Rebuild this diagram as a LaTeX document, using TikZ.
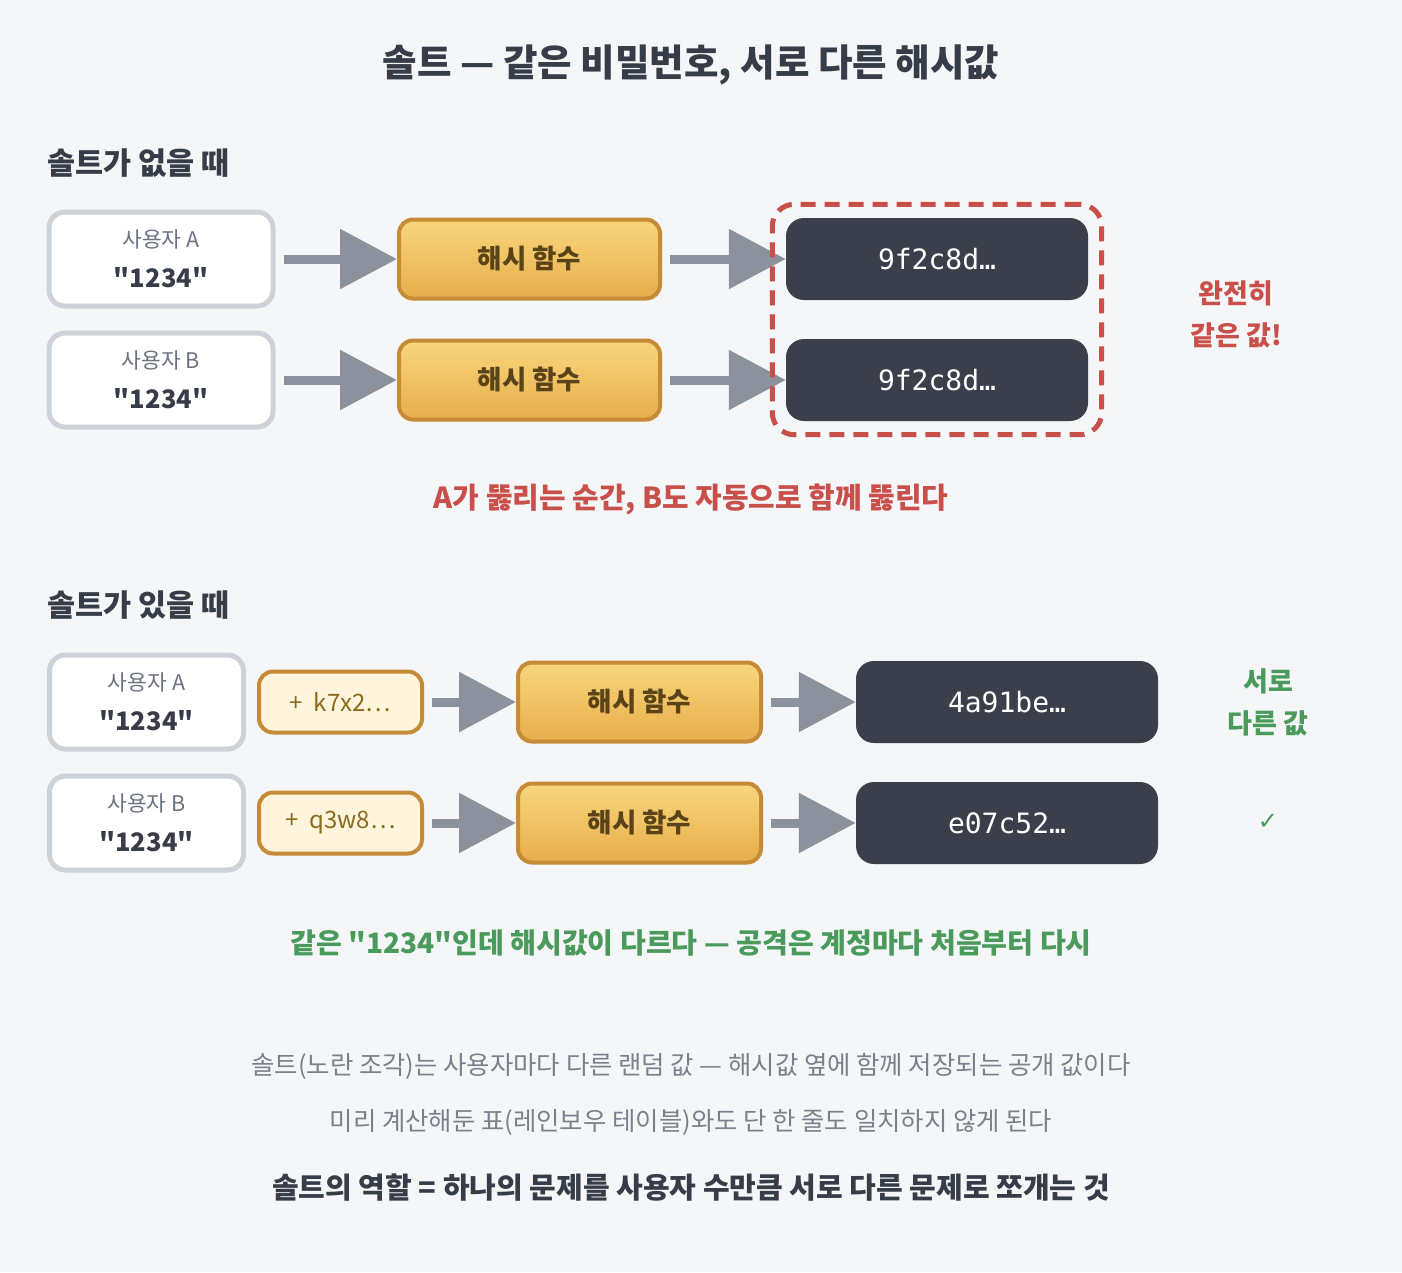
\documentclass[tikz,border=0pt]{standalone}
\usepackage{fontspec}
\setmainfont{Noto Sans CJK KR}[Ligatures=TeXOff]
\newfontfamily\hashfont{DejaVu Sans Mono}
\newfontfamily\tickfont{DejaVu Sans}
\usetikzlibrary{arrows.meta,fit}
\definecolor{bg}{HTML}{F5F6F8}
\definecolor{ink}{HTML}{373D48}
\definecolor{muted}{HTML}{6B7280}
\definecolor{note}{HTML}{7A808C}
\definecolor{pipe}{HTML}{8B929E}
\definecolor{userline}{HTML}{CDD1D8}
\definecolor{hashtop}{HTML}{F8D67B}
\definecolor{hashbot}{HTML}{E8AE4B}
\definecolor{hashedge}{HTML}{C68B37}
\definecolor{hashtxt}{HTML}{5A4318}
\definecolor{digest}{HTML}{3A3F4B}
\definecolor{saltfill}{HTML}{FFF4DC}
\definecolor{salttxt}{HTML}{8A6B1E}
\definecolor{alert}{HTML}{C94F4A}
\definecolor{okgreen}{HTML}{4A9A5C}
\newcommand{\pwd}[1]{{\fontsize{25.5}{40}\selectfont\bfseries\color{ink}#1}}
\tikzset{
  flow/.style={-{Triangle[length=57pt,width=58pt]}, line width=9pt, color=pipe, shorten <=8pt},
  user/.style={rounded corners=16pt, draw=userline, fill=white, line width=5pt,
    minimum width=#1, minimum height=94pt, align=center, inner sep=0pt,
    font=\fontsize{21.5}{40}\selectfont, text=muted},
  hashfn/.style={rounded corners=14pt, draw=hashedge, top color=hashtop, bottom color=hashbot,
    line width=4pt, minimum width=#1, minimum height=79pt, inner sep=0pt,
    font=\bfseries\fontsize{26.5}{26.5}\selectfont, text=hashtxt},
  digestbox/.style={rounded corners=18pt, fill=digest, minimum width=302pt, minimum height=82pt,
    inner sep=0pt, text=white, font=\hashfont\fontsize{28}{28}\selectfont},
  saltbox/.style={rounded corners=14pt, draw=hashedge, fill=saltfill, line width=4pt,
    minimum width=163pt, minimum height=61pt, inner sep=0pt,
    font=\fontsize{24}{24}\selectfont, text=salttxt},
  sameframe/.style={draw=alert, line width=5pt, dash pattern=on 15pt off 9pt,
    rounded corners=22pt, inner sep=13.5pt},
  ttl/.style={font=\bfseries\fontsize{37.5}{37.5}\selectfont, text=ink},
  sect/.style={anchor=west, font=\bfseries\fontsize{30.5}{30.5}\selectfont, text=ink},
  verdict/.style={align=center, font=\bfseries\fontsize{27}{42}\selectfont, text=#1},
  caption/.style={font=\bfseries\fontsize{#1}{#1}\selectfont},
  remark/.style={font=\fontsize{25.4}{25.4}\selectfont, text=note},
}
\begin{document}
\begin{tikzpicture}[x=1pt,y=-1pt]
  \fill[bg] (0,0) rectangle (1402,1272);
  \node[ttl] (title) at (691,65) {솔트 — 같은 비밀번호, 서로 다른 해시값};

  \node[sect] (nosalt) at (44,163) {솔트가 없을 때};
  \node[user=224pt] (ua) at (161,259) {사용자 A\\\pwd{"1234"}};
  \node[user=224pt] (ub) at (161,380) {사용자 B\\\pwd{"1234"}};
  \node[hashfn=261pt] (ha) at (529.5,259) {해시 함수};
  \node[hashfn=261pt] (hb) at (529.5,380) {해시 함수};
  \node[digestbox] (da) at (937,259) {9f2c8d…};
  \node[digestbox] (db) at (937,380) {9f2c8d…};
  \draw[flow] (ua) -- (ha);
  \draw[flow] (ub) -- (hb);
  \draw[flow] (ha) -- (da);
  \draw[flow] (hb) -- (db);
  \node[sameframe, fit=(da)(db)] (same) {};
  \node[verdict=alert] (samenote) at (1236,314) {완전히\\같은 값!};
  \node[caption=28.9, text=alert] (leak) at (691,500) {A가 뚫리는 순간, B도 자동으로 함께 뚫린다};

  \node[sect] (withsalt) at (44,605) {솔트가 있을 때};
  \node[user=194pt] (sa) at (146.5,702) {사용자 A\\\pwd{"1234"}};
  \node[user=194pt] (sb) at (146.5,823) {사용자 B\\\pwd{"1234"}};
  \node[saltbox] (pa) at (340.5,702) {+~~k7x2…};
  \node[saltbox] (pb) at (340.5,823) {+~~q3w8…};
  \node[hashfn=243pt] (ga) at (639.5,702) {해시 함수};
  \node[hashfn=243pt] (gb) at (639.5,823) {해시 함수};
  \node[digestbox] (ea) at (1007,702) {4a91be…};
  \node[digestbox] (eb) at (1007,823) {e07c52…};
  \draw[flow] (pa) -- (ga);
  \draw[flow] (pb) -- (gb);
  \draw[flow] (ga) -- (ea);
  \draw[flow] (gb) -- (eb);
  \node[verdict=okgreen] (diffnote) at (1268,702) {서로\\다른 값};
  \node[text=okgreen, font=\tickfont\fontsize{24}{24}\selectfont] (tick) at (1268,822) {✓};
  \node[caption=28.1, text=okgreen] (safe) at (691,943) {같은 "1234"인데 해시값이 다르다 — 공격은 계정마다 처음부터 다시};

  \node[remark] (r1) at (691,1066) {솔트(노란 조각)는 사용자마다 다른 랜덤 값 — 해시값 옆에 함께 저장되는 공개 값이다};
  \node[remark] (r2) at (691,1122) {미리 계산해둔 표(레인보우 테이블)와도 단 한 줄도 일치하지 않게 된다};
  \node[caption=29, text=ink] (role) at (691,1188) {솔트의 역할 = 하나의 문제를 사용자 수만큼 서로 다른 문제로 쪼개는 것};
\end{tikzpicture}
\end{document}
